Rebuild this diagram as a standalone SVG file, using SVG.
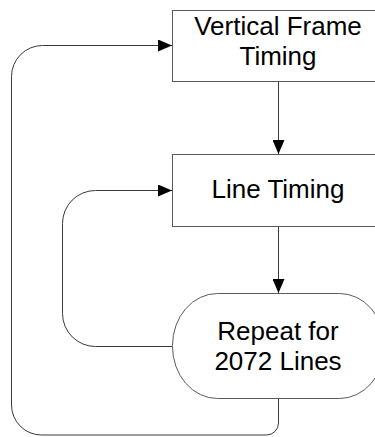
<svg xmlns="http://www.w3.org/2000/svg" width="375" height="437" viewBox="0 0 375 437">
<defs>
<style>
.node{fill:#fff;stroke:#5a5a5a;stroke-width:1}
.lbl{font-family:"Liberation Sans",Arial,sans-serif;font-size:26px;fill:#000;text-anchor:middle}
.conn{fill:none;stroke:#3a3a3a;stroke-width:1}
</style>
<marker id="ah" markerWidth="14" markerHeight="12" refX="14" refY="6" orient="auto" markerUnits="userSpaceOnUse">
<path d="M0,0 L14,6 L0,12 Z" fill="#000"/>
</marker>
</defs>
<rect width="375" height="437" fill="#fff"/>
<g id="connectors">
<path class="conn" d="M278.5,81.5 V154" marker-end="url(#ah)"/>
<path class="conn" d="M278.5,226.5 V293" marker-end="url(#ah)"/>
<path class="conn" d="M172.5,346.5 H95.5 A33,33 0 0 1 62.5,313.5 V223.5 A33,33 0 0 1 95.5,190.5 H172" marker-end="url(#ah)"/>
<path class="conn" d="M278.5,398.5 V423 A12,12 0 0 1 266.5,435 H41.5 A30,30 0 0 1 11.5,405 V76.5 A31,31 0 0 1 42.5,45.5 H172" marker-end="url(#ah)"/>
</g>
<g id="node-vertical-frame-timing">
<rect class="node" x="172.5" y="10.5" width="212" height="71"/>
<text class="lbl" x="278" y="35">Vertical Frame</text>
<text class="lbl" x="278" y="65">Timing</text>
</g>
<g id="node-line-timing">
<rect class="node" x="172.5" y="154.5" width="212" height="72"/>
<text class="lbl" x="278" y="198">Line Timing</text>
</g>
<g id="node-repeat">
<rect class="node" x="172.5" y="293.5" width="212" height="105" rx="45" ry="52"/>
<text class="lbl" x="278" y="340">Repeat for</text>
<text class="lbl" x="278" y="370">2072 Lines</text>
</g>
</svg>
